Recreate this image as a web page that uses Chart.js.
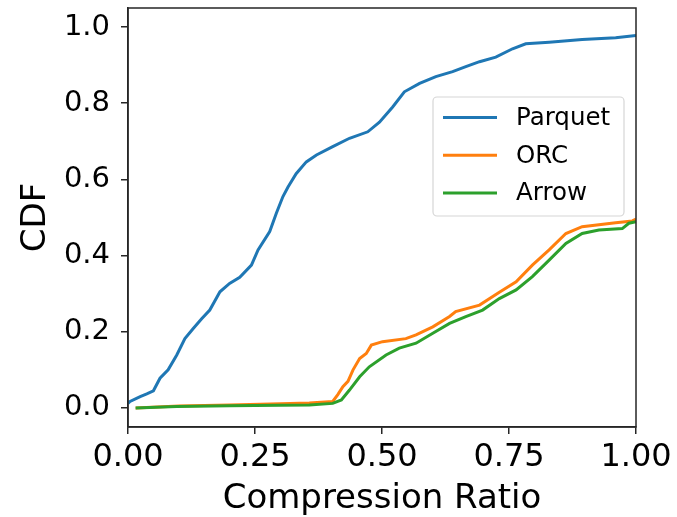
<!DOCTYPE html>
<html>
<head>
<meta charset="utf-8">
<script src="https://cdn.jsdelivr.net/npm/chart.js@4/dist/chart.umd.min.js"></script>
<style>
html,body{margin:0;padding:0;background:#fff;}
#wrap{width:677px;height:517px;position:relative;}
</style>
</head>
<body>
<div id="wrap"><canvas id="c" width="677" height="517"></canvas></div>
<script>
// ---- data ----
const seriesNames = ["Parquet", "ORC", "Arrow"];
const seriesColors = ["#1f77b4", "#ff7f0e", "#2ca02c"];

const parquetX = [0, 0.004, 0.024, 0.037, 0.050, 0.063, 0.079, 0.096, 0.112, 0.128, 0.145, 0.161, 0.181, 0.200, 0.220, 0.243, 0.256, 0.279, 0.292, 0.305, 0.315, 0.331, 0.351, 0.371, 0.403, 0.436, 0.472, 0.495, 0.521, 0.544, 0.574, 0.606, 0.639, 0.665, 0.692, 0.724, 0.757, 0.783, 0.829, 0.894, 0.960, 1.0];
const parquetY = [0.012, 0.017, 0.030, 0.037, 0.045, 0.078, 0.100, 0.139, 0.182, 0.208, 0.234, 0.257, 0.305, 0.327, 0.343, 0.375, 0.415, 0.463, 0.511, 0.555, 0.580, 0.615, 0.646, 0.664, 0.686, 0.708, 0.725, 0.750, 0.790, 0.830, 0.852, 0.870, 0.883, 0.896, 0.909, 0.921, 0.943, 0.956, 0.960, 0.967, 0.972, 0.978];

const orcX = [0.015, 0.10, 0.20, 0.30, 0.357, 0.403, 0.413, 0.423, 0.433, 0.443, 0.456, 0.469, 0.479, 0.501, 0.547, 0.567, 0.600, 0.633, 0.645, 0.692, 0.731, 0.764, 0.796, 0.829, 0.862, 0.894, 0.960, 0.993, 1.0];
const orcY = [0.0, 0.005, 0.008, 0.011, 0.013, 0.017, 0.035, 0.056, 0.070, 0.100, 0.130, 0.143, 0.165, 0.174, 0.182, 0.192, 0.213, 0.240, 0.253, 0.270, 0.304, 0.331, 0.375, 0.415, 0.458, 0.476, 0.486, 0.491, 0.496];

const arrowX = [0.015, 0.096, 0.20, 0.30, 0.357, 0.403, 0.420, 0.436, 0.456, 0.475, 0.508, 0.534, 0.567, 0.600, 0.633, 0.665, 0.698, 0.731, 0.764, 0.796, 0.829, 0.862, 0.894, 0.927, 0.973, 0.986, 1.0];
const arrowY = [0.0, 0.004, 0.006, 0.007, 0.008, 0.012, 0.021, 0.047, 0.082, 0.108, 0.139, 0.157, 0.170, 0.196, 0.222, 0.240, 0.257, 0.287, 0.310, 0.345, 0.388, 0.432, 0.458, 0.467, 0.471, 0.485, 0.489];

const xTicks = [0, 0.25, 0.5, 0.75, 1.0];
const yTicks = [0, 0.2, 0.4, 0.6, 0.8, 1.0];
const xTitle = "Compression Ratio";
const yTitle = "CDF";

// ---- build ----
const seriesX = [parquetX, orcX, arrowX];
const seriesY = [parquetY, orcY, arrowY];
const datasets = seriesNames.map((name, i) => ({
  label: name,
  data: seriesX[i].map((x, j) => ({x: x, y: seriesY[i][j]})),
  borderColor: seriesColors[i],
  backgroundColor: seriesColors[i],
  borderWidth: 3,
  pointRadius: 0,
  tension: 0,
  showLine: true,
  fill: false,
  order: seriesNames.length - 1 - i
}));

const FONT = "'DejaVu Sans', sans-serif";
const frameColor = "#262626";

const framePlugin = {
  id: 'frame',
  afterDatasetsDraw(chart) {
    const a = chart.chartArea, ctx = chart.ctx;
    ctx.save();
    ctx.strokeStyle = frameColor;
    ctx.lineWidth = 1.5;
    ctx.strokeRect(a.left, a.top, a.right - a.left, a.bottom - a.top);
    ctx.restore();
  }
};

const legendPlugin = {
  id: 'innerLegend',
  afterDraw(chart) {
    const ctx = chart.ctx;
    const ds = chart.data.datasets;
    const bx = 433, by = 97, bw = 191, bh = 119;
    ctx.save();
    ctx.beginPath();
    if (ctx.roundRect) ctx.roundRect(bx, by, bw, bh, 4); else ctx.rect(bx, by, bw, bh);
    ctx.fillStyle = 'rgba(255,255,255,0.85)';
    ctx.fill();
    ctx.strokeStyle = '#d6d6d6';
    ctx.lineWidth = 1.2;
    ctx.stroke();
    ctx.font = "24.5px " + FONT;
    ctx.textBaseline = 'middle';
    ctx.fillStyle = '#000';
    ds.forEach((d, i) => {
      const yy = 117.5 + i * 37.7;
      ctx.strokeStyle = d.borderColor;
      ctx.lineWidth = 3;
      ctx.beginPath();
      ctx.moveTo(443, yy);
      ctx.lineTo(497, yy);
      ctx.stroke();
      ctx.fillText(d.label, 516, yy + 1);
    });
    ctx.restore();
  }
};

new Chart(document.getElementById('c'), {
  type: 'scatter',
  data: { datasets: datasets },
  options: {
    responsive: false,
    animation: false,
    devicePixelRatio: 1,
    layout: { padding: { left: 0, right: 41, top: 8, bottom: 0 } },
    plugins: { legend: { display: false }, tooltip: { enabled: false } },
    scales: {
      x: {
        type: 'linear',
        min: 0, max: 1,
        afterFit(s) { s.height = 90; s.paddingLeft = 0; s.paddingRight = 0; },
        afterBuildTicks(s) { s.ticks = xTicks.map(v => ({value: v})); },
        ticks: {
          color: '#000',
          font: { family: FONT, size: 32 },
          padding: 4,
          maxRotation: 0,
          callback: v => Number(v).toFixed(2)
        },
        grid: { drawOnChartArea: false, drawTicks: true, tickLength: 7, color: frameColor, lineWidth: 1.5 },
        border: { display: true, color: frameColor, width: 1.5 },
        title: { display: true, text: xTitle, color: '#000', font: { family: FONT, size: 34, lineHeight: 1 }, padding: { top: 0, bottom: 1 } }
      },
      y: {
        type: 'linear',
        min: -0.05, max: 1.05,
        afterFit(s) { s.width = 128; s.paddingTop = 0; s.paddingBottom = 0; },
        afterBuildTicks(s) { s.ticks = yTicks.map(v => ({value: v})); },
        ticks: {
          color: '#000',
          font: { family: FONT, size: 29 },
          padding: 11,
          callback: v => Number(v).toFixed(1)
        },
        grid: { drawOnChartArea: false, drawTicks: true, tickLength: 7, color: frameColor, lineWidth: 1.5 },
        border: { display: true, color: frameColor, width: 1.5 },
        title: { display: true, text: yTitle, color: '#000', font: { family: FONT, size: 34, lineHeight: 1 }, padding: { top: 19, bottom: 0 } }
      }
    }
  },
  plugins: [framePlugin, legendPlugin]
});
</script>
</body>
</html>
